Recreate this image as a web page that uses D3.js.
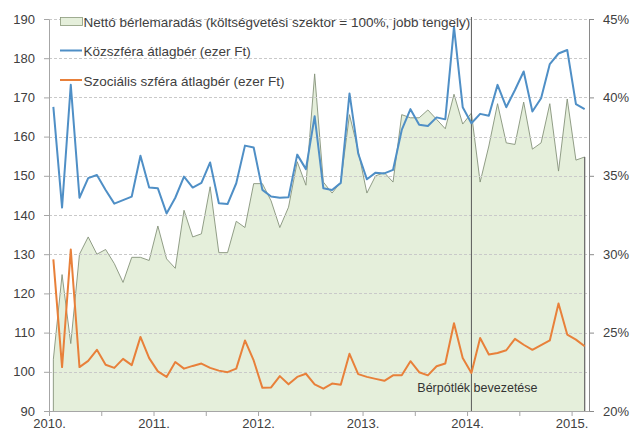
<!DOCTYPE html>
<html><head><meta charset="utf-8">
<script src="https://cdn.jsdelivr.net/npm/d3@7"></script>
<style>
html,body{margin:0;padding:0;background:#fff;}
svg{display:block;font-family:"Liberation Sans",Arial,sans-serif;}
</style></head>
<body>
<svg id="chart" width="630" height="432"></svg>
<script>
// ---- data (monthly, Jan 2010 – Feb 2015) ----
const startYear = 2010;
const yearLabels = ["2010.", "2011.", "2012.", "2013.", "2014.", "2015."];
const leftTicks = [90, 100, 110, 120, 130, 140, 150, 160, 170, 180, 190];
const rightTicks = [20, 25, 30, 35, 40, 45];
const seriesNames = [
  "Nettó bérlemaradás (költségvetési szektor = 100%, jobb tengely)",
  "Közszféra átlagbér (ezer Ft)",
  "Szociális szféra átlagbér (ezer Ft)"
];
const annotationText = "Bérpótlék bevezetése";
const annotationMonth = 48; // Jan 2014

// Nettó bérlemaradás, % (right axis)
const gapPct = [
  23.3, 28.7, 24.3, 30.0, 31.1, 30.0, 30.3, 29.4, 28.2, 29.8,
  29.8, 29.6, 31.8, 29.7, 29.1, 32.8, 31.1, 31.3, 34.3, 30.1,
  30.1, 32.1, 31.7, 34.5, 34.5, 33.4, 31.7, 33.0, 35.9, 34.4,
  41.5, 34.6, 33.9, 34.6, 38.9, 36.6, 33.9, 35.0, 35.2, 34.6,
  38.9, 38.7, 38.7, 39.2, 38.6, 38.0, 40.2, 38.3, 39.0, 34.6,
  36.9, 39.6, 37.1, 37.0, 39.7, 36.7, 37.1, 39.6, 35.3, 39.9,
  36.0, 36.2
];
// Közszféra átlagbér, ezer Ft (left axis)
const publicWage = [
  167.6, 141.9, 173.2, 144.4, 149.4, 150.2, 146.4, 142.9, 143.8, 144.7,
  155.1, 147.0, 146.8, 140.4, 144.4, 149.8, 147.0, 148.2, 153.4, 143.0,
  142.8, 148.1, 157.7, 157.2, 146.4, 144.7, 144.4, 144.5, 155.4, 151.7,
  165.2, 146.8, 146.4, 148.2, 171.0, 155.7, 149.1, 150.8, 150.6, 151.5,
  161.7, 167.0, 163.0, 162.7, 164.9, 164.4, 188.0, 167.5, 163.4, 165.8,
  165.3, 173.2, 167.5, 171.9, 176.6, 166.4, 169.8, 178.5, 181.2, 182.1,
  168.3, 167.0
];
// Szociális szféra átlagbér, ezer Ft (left axis)
const socialWage = [
  128.7, 101.2, 131.2, 101.2, 102.8, 105.6, 101.8, 101.0, 103.3, 101.7,
  108.9, 103.5, 100.1, 98.7, 102.5, 100.8, 101.5, 102.1, 101.0, 100.3,
  99.9, 100.8, 108.0, 102.9, 95.9, 96.0, 98.9, 96.8, 98.7, 99.5,
  96.8, 95.7, 97.0, 96.7, 104.6, 99.4, 98.7, 98.2, 97.7, 99.1,
  99.1, 102.7, 99.9, 99.1, 101.4, 102.1, 112.4, 103.5, 99.7, 108.6,
  104.4, 104.8, 105.5, 108.4, 106.9, 105.6, 106.8, 108.0, 117.4, 109.5,
  108.2, 106.5
];

// ---- layout ----
const W = 630, H = 432;
const m = {left: 49, right: 41, top: 19, bottom: 21};
const svg = d3.select("#chart");
const nMonths = gapPct.length;

const x = d3.scaleLinear().domain([0, nMonths]).range([m.left, W - m.right]);
const yL = d3.scaleLinear().domain([90, 190]).range([H - m.bottom, m.top]);
const yR = d3.scaleLinear().domain([20, 45]).range([H - m.bottom, m.top]);
const xc = i => x(i + 0.5);

const textCol = "#404040";

// area (right axis)
const area = d3.area()
  .x((d, i) => xc(i))
  .y0(yR(20))
  .y1(d => yR(d));
svg.append("path")
  .datum(gapPct)
  .attr("d", area)
  .attr("fill", "#e5efdb")
  .attr("stroke", "none");
const areaTop = d3.line().x((d, i) => xc(i)).y(d => yR(d));
svg.append("path")
  .datum(gapPct)
  .attr("d", "M" + xc(0) + "," + yR(20) + "L" + areaTop(gapPct).slice(1) + "L" + xc(nMonths - 1) + "," + yR(20))
  .attr("fill", "none")
  .attr("stroke", "#86937a")
  .attr("stroke-width", 0.9);

// gridlines
svg.append("g").selectAll("line")
  .data(leftTicks.slice(1))
  .join("line")
  .attr("x1", m.left).attr("x2", W - m.right)
  .attr("y1", d => Math.round(yL(d)) + 0.5).attr("y2", d => Math.round(yL(d)) + 0.5)
  .attr("stroke", "#c9c9c9")
  .attr("stroke-dasharray", "3,2");

// annotation vertical line
svg.append("line")
  .attr("x1", xc(annotationMonth)).attr("x2", xc(annotationMonth))
  .attr("y1", m.top - 2).attr("y2", yL(90))
  .attr("stroke", "#5a5a5a").attr("stroke-width", 1);
// right edge of area
svg.append("line")
  .attr("x1", xc(nMonths - 1)).attr("x2", xc(nMonths - 1))
  .attr("y1", yR(gapPct[nMonths - 1])).attr("y2", yL(90))
  .attr("stroke", "#6f6f6f").attr("stroke-width", 1.2);

// lines
const lineL = d3.line().x((d, i) => xc(i)).y(d => yL(d));
svg.append("path").datum(socialWage).attr("d", lineL)
  .attr("fill", "none").attr("stroke", "#e8803a").attr("stroke-width", 2)
  .attr("stroke-linejoin", "round");
svg.append("path").datum(publicWage).attr("d", lineL)
  .attr("fill", "none").attr("stroke", "#4f8fc6").attr("stroke-width", 2)
  .attr("stroke-linejoin", "round");

// annotation text
svg.append("text")
  .attr("x", xc(annotationMonth) + 6).attr("y", 392)
  .attr("text-anchor", "middle")
  .attr("font-size", 12.5).attr("fill", "#333")
  .text(annotationText);

// axes
function styleAxis(g, col) {
  g.select(".domain").attr("stroke", col);
  g.selectAll(".tick line").attr("stroke", col);
  g.selectAll(".tick text").attr("fill", textCol).attr("font-size", 13)
    .attr("font-family", "'Liberation Sans',Arial,sans-serif");
}
const gL = svg.append("g").attr("transform", `translate(${m.left},0)`)
  .call(d3.axisLeft(yL).tickValues(leftTicks).tickSize(5).tickSizeOuter(0).tickPadding(9));
styleAxis(gL, "#a6a6a6");
const gR = svg.append("g").attr("transform", `translate(${W - m.right},0)`)
  .call(d3.axisRight(yR).tickValues(rightTicks).tickFormat(d => d + "%").tickSize(5).tickSizeOuter(0).tickPadding(9));
styleAxis(gR, "#8a8a8a");
const halfYears = d3.range(0, nMonths, 6);
const gB = svg.append("g").attr("transform", `translate(0,${H - m.bottom})`)
  .call(d3.axisBottom(x).tickValues(halfYears)
    .tickFormat(d => d % 12 === 0 ? yearLabels[d / 12] : "")
    .tickSize(5).tickSizeOuter(0).tickPadding(3));
styleAxis(gB, "#a6a6a6");
gB.selectAll(".tick text").attr("font-size", 13);

// legend
const lg = svg.append("g").attr("font-size", 13.5).attr("fill", textCol);
const lgY = [22, 51.5, 81];
lg.append("rect").attr("x", 60.5).attr("y", lgY[0] - 4.5).attr("width", 22).attr("height", 8)
  .attr("fill", "#e5efdb").attr("stroke", "#8a9a7a").attr("stroke-width", 0.8);
lg.append("line").attr("x1", 60).attr("x2", 82).attr("y1", lgY[1] - 1).attr("y2", lgY[1] - 1)
  .attr("stroke", "#4f8fc6").attr("stroke-width", 2);
lg.append("line").attr("x1", 60).attr("x2", 82).attr("y1", lgY[2] - 1).attr("y2", lgY[2] - 1)
  .attr("stroke", "#e8803a").attr("stroke-width", 2);
lg.selectAll("text").data(seriesNames).join("text")
  .attr("x", 83.5).attr("y", (d, i) => lgY[i]).attr("dy", "0.35em")
  .text(d => d);
</script>
</body></html>
